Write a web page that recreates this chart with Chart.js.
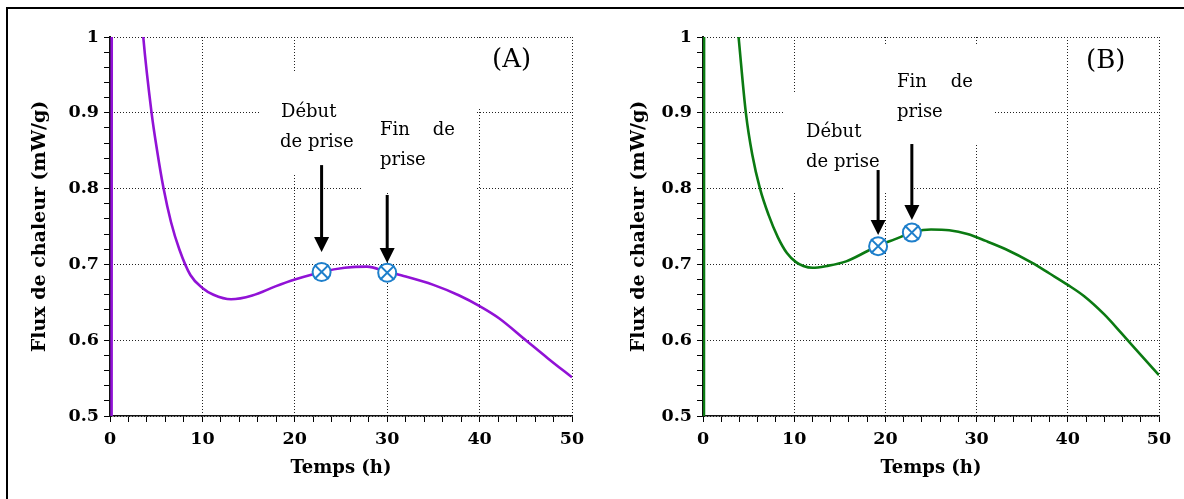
<!DOCTYPE html>
<html>
<head>
<meta charset="utf-8">
<script src="https://cdn.jsdelivr.net/npm/chart.js@4.4.1/dist/chart.umd.min.js"></script>
<style>
  body { margin: 0; background: #fff; }
  #wrap { position: relative; width: 1184px; height: 499px; overflow: hidden; }
  #cadre { position: absolute; left: 6px; top: 7px; width: 1200px; height: 520px; border-top: 2px solid #000; border-left: 2px solid #000; z-index: 2; pointer-events: none; }
  .graf { position: absolute; top: 0; }
</style>
</head>
<body>
<div id="wrap">
  <div id="cadre"></div>
  <canvas id="grafico_a" class="graf" width="592" height="499" style="left:0"></canvas>
  <canvas id="grafico_b" class="graf" width="592" height="499" style="left:592px"></canvas>
</div>
<script>
// courbe (A)
const tempsA = [0.17, 0.2, 3.3, 3.6, 4.5, 5.1, 5.8, 6.6, 7.5, 8.7, 10, 11.2, 13.1, 15.4, 17.9, 20, 22.9, 25.4, 27.8, 30, 32, 35, 37.8, 40, 42.1, 45, 47.4, 50];
const fluxA = [0.40, 1.20, 1.05, 1.0, 0.9, 0.85, 0.8, 0.756, 0.72, 0.686, 0.669, 0.66, 0.654, 0.659, 0.671, 0.68, 0.69, 0.6955, 0.697, 0.69, 0.684, 0.673, 0.659, 0.645, 0.629, 0.60, 0.576, 0.551];
const priseTempsA = [22.9, 30.0];
const priseFluxA = [0.690, 0.689];

// courbe (B)
const tempsB = [0.1, 0.13, 3.5, 3.9, 4.7, 5.4, 6.25, 7.2, 8.2, 9.2, 10.2, 11, 12, 13.6, 15.7, 18.1, 19.3, 21, 23.2, 25, 27, 29, 31, 33.2, 36.1, 38, 40, 41.8, 44, 45.9, 47.9, 50];
const fluxB = [0.40, 1.20, 1.05, 1.0, 0.9, 0.845, 0.8, 0.765, 0.736, 0.715, 0.703, 0.698, 0.6955, 0.698, 0.704, 0.718, 0.725, 0.733, 0.743, 0.746, 0.745, 0.74, 0.731, 0.72, 0.702, 0.688, 0.673, 0.658, 0.634, 0.609, 0.582, 0.554];
const priseTempsB = [19.2, 22.9];
const priseFluxB = [0.724, 0.742];

const ticksX = [0, 10, 20, 30, 40, 50];
const ticksY = [0.5, 0.6, 0.7, 0.8, 0.9, 1];

const bleu = '#1e7fcb';
const police = '"DejaVu Serif", "Liberation Serif", serif';

function pontos(xs, ys) {
  return xs.map((x, i) => ({ x: x, y: ys[i] }));
}

function ehMaior(v, lista) {
  return lista.some(t => Math.abs(t - v) < 1e-6);
}

// caixas brancas, textos e setas
const anotacoes = {
  id: 'anotacoes',
  beforeDatasetsDraw(chart, args, opts) {
    const ctx = chart.ctx;
    const sx = chart.scales.x;
    const sy = chart.scales.y;
    ctx.save();
    ctx.fillStyle = '#fff';
    opts.caixas.forEach(c => ctx.fillRect(c[0], c[1], c[2], c[3]));

    ctx.fillStyle = '#000';
    ctx.textBaseline = 'alphabetic';
    opts.textos.forEach(t => {
      ctx.font = (t.tam || 18) + 'px ' + police;
      ctx.textAlign = t.alinha || 'left';
      ctx.fillText(t.txt, t.x, t.y);
    });

    opts.setas.forEach(s => {
      const x = sx.getPixelForValue(s.t);
      const y1 = sy.getPixelForValue(s.de);
      const y2 = sy.getPixelForValue(s.ate);
      ctx.strokeStyle = '#000';
      ctx.lineWidth = 3;
      ctx.beginPath();
      ctx.moveTo(x, y1);
      ctx.lineTo(x, y2 - 12);
      ctx.stroke();
      ctx.beginPath();
      ctx.moveTo(x - 7.5, y2 - 15);
      ctx.lineTo(x + 7.5, y2 - 15);
      ctx.lineTo(x, y2);
      ctx.closePath();
      ctx.fill();
    });
    ctx.restore();
  }
};

function grafico(id, tempos, fluxos, priseT, priseF, cor, pad, largY, anot) {
  const config = {
    type: 'line',
    data: {
      datasets: [
        {
          data: pontos(priseT, priseF),
          showLine: false,
          pointStyle: 'crossRot',
          pointRadius: 10,
          pointBorderWidth: 2,
          pointBorderColor: bleu,
          order: 0
        },
        {
          data: pontos(priseT, priseF),
          showLine: false,
          pointStyle: 'circle',
          pointRadius: 9,
          pointBorderWidth: 2,
          pointBorderColor: bleu,
          pointBackgroundColor: '#fff',
          order: 1
        },
        {
          data: pontos(tempos, fluxos),
          borderColor: cor,
          borderWidth: 2.6,
          pointRadius: 0,
          cubicInterpolationMode: 'monotone',
          clip: 0,
          order: 2
        }
      ]
    },
    options: {
      responsive: false,
      animation: false,
      events: [],
      layout: { padding: pad },
      plugins: {
        legend: { display: false },
        tooltip: { enabled: false },
        anotacoes: anot
      },
      scales: {
        x: {
          type: 'linear',
          min: 0,
          max: 50,
          afterFit: s => { s.height = 65; },
          ticks: {
            stepSize: 2,
            autoSkip: false,
            maxRotation: 0,
            padding: 7,
            color: '#000',
            font: { family: police, weight: 'bold', size: 17.5 },
            callback: v => ehMaior(v, ticksX) ? String(v) : ''
          },
          grid: {
            color: c => c.tick && ehMaior(c.tick.value, ticksX) ? '#222' : 'rgba(0,0,0,0)',
            tickColor: '#000',
            tickLength: 6,
            lineWidth: 1
          },
          border: { color: '#111', width: 1.5, dash: [1, 2] },
          title: {
            display: true,
            text: 'Temps (h)',
            color: '#000',
            padding: { top: 4, bottom: 2 },
            font: { family: police, weight: 'bold', size: 18 }
          }
        },
        y: {
          type: 'linear',
          min: 0.5,
          max: 1,
          afterFit: s => { s.width = largY; },
          ticks: {
            stepSize: 0.02,
            autoSkip: false,
            maxTicksLimit: 100,
            padding: 5,
            color: '#000',
            font: { family: police, weight: 'bold', size: 17.5 },
            callback: v => {
              if (!ehMaior(v, ticksY)) return '';
              return Math.abs(v - 1) < 1e-6 ? '1' : v.toFixed(1);
            }
          },
          grid: {
            color: c => c.tick && ehMaior(c.tick.value, ticksY) ? '#222' : 'rgba(0,0,0,0)',
            tickColor: '#000',
            tickLength: 6,
            lineWidth: 1
          },
          border: { color: '#111', width: 2, dash: [1, 2] },
          title: {
            display: true,
            text: 'Flux de chaleur (mW/g)',
            color: '#000',
            padding: { top: 2, bottom: 4 },
            font: { family: police, weight: 'bold', size: 19 }
          }
        }
      }
    },
    plugins: [anotacoes]
  };
  return new Chart(document.getElementById(id), config);
}

grafico('grafico_a', tempsA, fluxA, priseTempsA, priseFluxA, '#9112d6',
  { left: 27, right: 20, top: 37, bottom: 18 }, 83,
  {
    caixas: [[260, 73, 102, 102], [362, 40, 115, 153], [477, 40, 90, 68]],
    textos: [
      { txt: 'Début', x: 281, y: 117 },
      { txt: 'de prise', x: 280, y: 147 },
      { txt: 'Fin', x: 380, y: 135 },
      { txt: 'de', x: 455, y: 135, alinha: 'right' },
      { txt: 'prise', x: 380, y: 165 },
      { txt: '(A)', x: 492, y: 67, tam: 26 }
    ],
    setas: [
      { t: priseTempsA[0], de: 0.831, ate: 0.7164 },
      { t: priseTempsA[1], de: 0.7916, ate: 0.7018 }
    ]
  });

grafico('grafico_b', tempsB, fluxB, priseTempsB, priseFluxB, '#0b7a12',
  { left: 34, right: 25, top: 37, bottom: 18 }, 77,
  {
    caixas: [[193, 93, 127, 100], [293, 45, 110, 100], [483, 40, 75, 65]],
    textos: [
      { txt: 'Début', x: 214, y: 137 },
      { txt: 'de prise', x: 214, y: 167 },
      { txt: 'Fin', x: 305, y: 87 },
      { txt: 'de', x: 381, y: 87, alinha: 'right' },
      { txt: 'prise', x: 305, y: 117 },
      { txt: '(B)', x: 494, y: 68, tam: 26 }
    ],
    setas: [
      { t: priseTempsB[0], de: 0.8245, ate: 0.7388 },
      { t: priseTempsB[1], de: 0.8588, ate: 0.7586 }
    ]
  });
</script>
</body>
</html>
